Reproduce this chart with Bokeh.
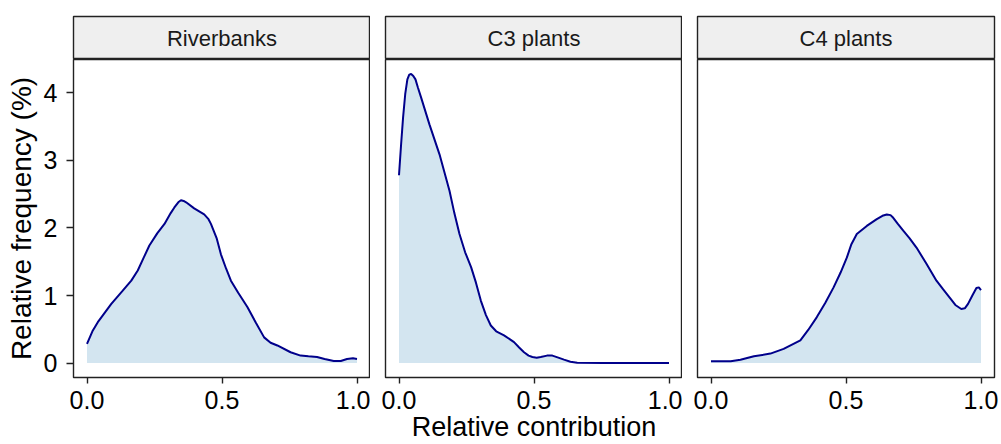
from bokeh.plotting import figure
from bokeh.layouts import row, column
from bokeh.models import FixedTicker, Range1d
from bokeh.core.properties import value
from bokeh.embed import file_html
from bokeh.resources import INLINE

panels = ["Riverbanks", "C3 plants", "C4 plants"]

river_x = [0.0, 0.02, 0.04, 0.09, 0.13, 0.164, 0.188, 0.21, 0.231, 0.26, 0.287, 0.31, 0.323,
           0.338, 0.348, 0.358, 0.367, 0.397, 0.434, 0.45, 0.459, 0.48, 0.496, 0.515,
           0.533, 0.56, 0.594, 0.625, 0.656, 0.68, 0.705, 0.754, 0.791, 0.82, 0.852,
           0.88, 0.914, 0.94, 0.963, 0.985, 1.0]
river_y = [0.285, 0.47, 0.605, 0.876, 1.06, 1.22, 1.37, 1.56, 1.74, 1.92, 2.06, 2.22, 2.30,
           2.38, 2.41, 2.40, 2.38, 2.29, 2.20, 2.13, 2.06, 1.85, 1.61, 1.40,
           1.22, 1.04, 0.83, 0.60, 0.38, 0.30, 0.26, 0.16, 0.11, 0.10, 0.09,
           0.06, 0.03, 0.03, 0.06, 0.07, 0.06]

c3_x = [0.0, 0.008, 0.015, 0.023, 0.031, 0.038, 0.045, 0.053, 0.061, 0.07, 0.082, 0.113,
        0.150, 0.187, 0.205, 0.224, 0.245, 0.267, 0.285, 0.303, 0.322, 0.340, 0.36,
        0.389, 0.426, 0.445, 0.463, 0.48, 0.494, 0.51, 0.525, 0.548, 0.568, 0.59,
        0.611, 0.635, 0.66, 0.76, 1.0]
c3_y = [2.78, 3.25, 3.63, 3.98, 4.20, 4.27, 4.28, 4.25, 4.20, 4.08, 3.93, 3.53,
        3.09, 2.55, 2.22, 1.91, 1.64, 1.42, 1.19, 0.925, 0.71, 0.556, 0.47,
        0.41, 0.31, 0.23, 0.16, 0.11, 0.09, 0.08, 0.09, 0.11, 0.11, 0.08,
        0.05, 0.02, 0.005, 0.0, 0.0]

c4_x = [0.0, 0.073, 0.109, 0.159, 0.22, 0.269, 0.331, 0.36, 0.392, 0.423, 0.454, 0.48,
        0.503, 0.52, 0.54, 0.577, 0.614, 0.635, 0.651, 0.665, 0.675, 0.692, 0.712,
        0.735, 0.761, 0.798, 0.835, 0.86, 0.884, 0.905, 0.927, 0.94, 0.952, 0.968,
        0.983, 0.992, 1.0]
c4_y = [0.025, 0.025, 0.05, 0.10, 0.14, 0.21, 0.335, 0.49, 0.68, 0.89, 1.12, 1.34,
        1.56, 1.76, 1.91, 2.03, 2.13, 2.18, 2.20, 2.19, 2.15, 2.06, 1.96,
        1.85, 1.71, 1.47, 1.22, 1.09, 0.97, 0.86, 0.80, 0.81, 0.876, 1.0,
        1.11, 1.12, 1.08]

x_ticks = [0.0, 0.5, 1.0]
x_tick_labels = ["0.0", "0.5", "1.0"]
y_ticks = [0, 1, 2, 3, 4]

series = [(river_x, river_y), (c3_x, c3_y), (c4_x, c4_y)]

FONT = "Liberation Sans"
FW, FH, SH = 297, 318, 43
ymax = max(max(c3_y), max(river_y), max(c4_y))
yr = (-0.05 * ymax, ymax * 1.05)
xr = (-0.05, 1.05)

cols = []
for i, (name, (xs, ys)) in enumerate(zip(panels, series)):
    left = 73 if i == 0 else 15
    right = 7 if i == 2 else 0

    s = figure(frame_width=FW, frame_height=SH, x_range=(0, 1), y_range=(0, 1),
               output_backend="svg", toolbar_location=None,
               x_axis_location=None, y_axis_location=None,
               min_border_left=left, min_border_right=right,
               min_border_top=16, min_border_bottom=0)
    s.background_fill_color = "#efefef"
    s.border_fill_color = "white"
    s.outline_line_color = "#222222"
    s.outline_line_width = 1.4
    s.grid.visible = False
    s.text(x=[0.5], y=[0.5], text=[name], text_align="center", text_baseline="middle",
           text_font=value(FONT), text_font_size="22px", text_color="#1a1a1a")

    p = figure(frame_width=FW, frame_height=FH,
               x_range=Range1d(*xr), y_range=Range1d(*yr),
               output_backend="svg", toolbar_location=None,
               y_axis_location="left" if i == 0 else None,
               min_border_left=left, min_border_right=right,
               min_border_top=0, min_border_bottom=67)
    p.background_fill_color = "white"
    p.border_fill_color = "white"
    p.outline_line_color = "#222222"
    p.outline_line_width = 1.4
    p.grid.visible = False

    p.varea(x=xs, y1=[0] * len(xs), y2=ys, fill_color="#d3e5f0")
    p.line(x=xs, y=ys, line_color="#00008b", line_width=2)

    xa = p.xaxis[0]
    xa.ticker = FixedTicker(ticks=x_ticks)
    xa.major_label_overrides = {t: l for t, l in zip(x_ticks, x_tick_labels)}
    xa.minor_tick_line_color = None
    xa.axis_line_color = None
    xa.major_tick_in = 0
    xa.major_tick_out = 6
    xa.major_tick_line_color = "#222222"
    xa.major_tick_line_width = 1.4
    xa.major_label_text_font = FONT
    xa.major_label_text_font_size = "25px"
    xa.major_label_text_color = "black"
    xa.major_label_standoff = 7
    if i == 1:
        xa.axis_label = "Relative contribution"
        xa.axis_label_text_font = FONT
        xa.axis_label_text_font_size = "27px"
        xa.axis_label_text_font_style = "normal"
        xa.axis_label_text_color = "black"
        xa.axis_label_standoff = 0

    if i == 0:
        ya = p.yaxis[0]
        ya.ticker = FixedTicker(ticks=y_ticks)
        ya.minor_tick_line_color = None
        ya.axis_line_color = None
        ya.major_tick_in = 0
        ya.major_tick_out = 7
        ya.major_tick_line_color = "#222222"
        ya.major_tick_line_width = 1.4
        ya.major_label_text_font = FONT
        ya.major_label_text_font_size = "25px"
        ya.major_label_text_color = "black"
        ya.major_label_standoff = 9
        ya.axis_label = "Relative frequency (%)"
        ya.axis_label_text_font = FONT
        ya.axis_label_text_font_size = "28px"
        ya.axis_label_text_font_style = "normal"
        ya.axis_label_text_color = "black"
        ya.axis_label_standoff = 4

    cols.append(column(s, p, spacing=0))

layout = row(*cols, spacing=0)
open("out.html", "w").write(file_html(layout, INLINE))
